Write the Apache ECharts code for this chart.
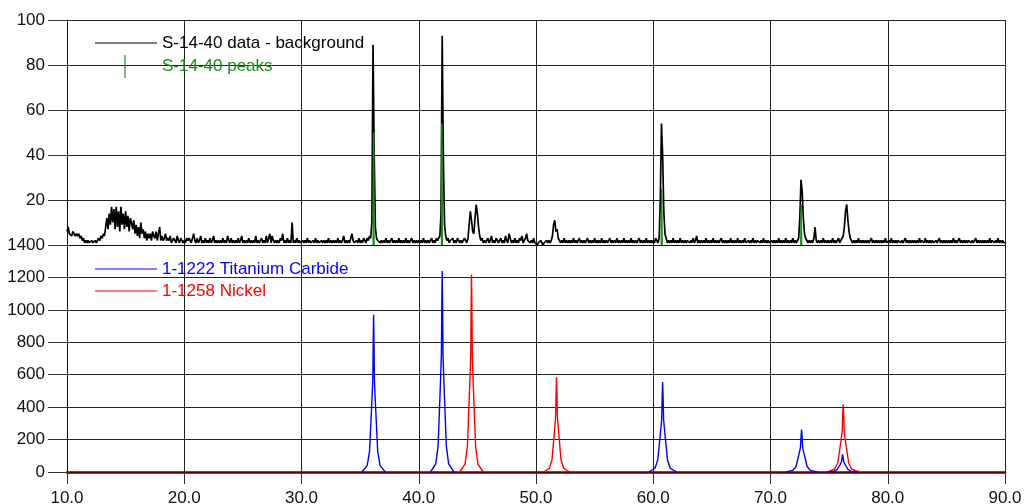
<!DOCTYPE html>
<html>
<head>
<meta charset="utf-8">
<script src="https://cdn.jsdelivr.net/npm/echarts@6/dist/echarts.min.js"></script>
<style>
  html, body { margin: 0; padding: 0; background: #fff; }
  #chart { width: 1030px; height: 504px; }
</style>
</head>
<body>
<div id="chart"></div>
<script>
// Measured pattern S-14-40 (background removed): intensity every 0.1 deg 2-theta, 10.0 .. 90.0
const scanStart = 10.0;
const scanStep = 0.1;
const scanCounts = [
  6,8,5,5,4,6,5,4,5,4,      // 10
  5,3,4,2,3,1,2,1,2,1,      // 11
  1,2,1,1,2,1,1,3,2,4,      // 12
  3,5,4,8,12,7,14,9,17,10,  // 13
  16,7,17,8,15,6,17,9,14,7, // 14
  15,8,13,6,12,10,7,11,5,9, // 15
  4,8,3,10,5,7,3,6,2,5,     // 16
  3,5,2,6,4,3,6,2,5,8,      // 17
  2,4,2,3,5,2,3,2,4,1,      // 18
  2,3,2,1,4,2,1,3,2,1,      // 19
  2,1,3,2,3,2,1,3,5,2,      // 20
  1,3,1,2,4,1,2,1,3,1,      // 21
  2,1,3,1,2,4,1,2,1,2,      // 22
  1,2,1,3,1,2,1,4,2,1,      // 23
  3,1,2,1,2,1,3,1,2,4,      // 24
  1,2,1,2,1,3,1,2,1,2,      // 25
  1,4,1,2,1,2,3,1,2,1,      // 26
  4,1,3,5,1,4,2,1,2,1,      // 27
  2,1,3,2,5,1,2,1,3,1,      // 28
  2,1,10,1,2,1,3,1,2,1,     // 29
  1,2,1,2,1,3,1,2,1,1,      // 30
  2,1,3,1,2,1,1,2,1,2,      // 31
  1,2,1,3,1,2,1,2,1,2,      // 32
  1,3,1,2,1,2,4,1,2,1,      // 33
  2,1,3,5,2,1,1,2,1,3,      // 34
  1,2,1,3,2,1,3,2,4,3,      // 35
  10,89,40,8,3,2,2,1,2,1,   // 36
  2,1,3,1,2,1,2,3,1,2,      // 37
  1,2,1,3,1,2,1,2,1,3,      // 38
  1,2,1,2,3,1,2,1,2,1,      // 39
  2,1,2,1,3,1,2,1,2,1,      // 40
  2,3,1,2,1,3,2,3,4,14,     // 41
  93,38,9,4,2,3,1,2,2,3,    // 42
  1,2,1,3,2,1,2,1,2,3,      // 43
  2,1,3,9,15,11,6,5,12,18,  // 44
  14,8,4,2,3,1,2,1,2,3,     // 45
  1,2,4,1,2,1,3,2,1,2,      // 46
  3,1,2,1,4,2,1,5,3,1,      // 47
  2,1,3,1,2,1,3,2,4,1,      // 48
  2,3,5,2,2,1,2,1,3,1,      // 49
  1,0,1,1,2,1,0,1,1,2,      // 50
  1,2,1,2,4,9,11,6,7,3,     // 51
  2,1,2,1,3,1,2,1,2,1,      // 52
  2,1,3,1,2,1,2,3,1,2,      // 53
  1,2,1,2,3,1,2,1,2,1,      // 54
  3,1,2,1,2,1,3,1,2,1,      // 55
  2,1,2,3,1,2,1,2,1,3,      // 56
  1,2,1,2,1,3,1,2,1,2,      // 57
  1,3,1,2,1,2,1,2,3,1,      // 58
  2,1,2,1,3,1,2,1,2,1,      // 59
  2,1,3,2,1,3,20,54,40,15,  // 60
  5,3,1,2,1,2,1,3,1,2,      // 61
  1,2,1,3,1,2,1,2,1,2,      // 62
  2,1,2,1,3,1,2,4,1,2,      // 63
  1,2,1,2,1,3,1,2,1,2,      // 64
  1,3,1,2,1,2,1,2,3,1,      // 65
  2,1,2,1,2,1,3,1,2,1,      // 66
  2,1,3,1,2,1,2,1,3,1,      // 67
  1,2,1,2,1,3,1,2,1,2,      // 68
  2,1,2,1,3,1,2,1,2,1,      // 69
  1,2,1,2,1,2,1,3,1,2,      // 70
  1,2,1,3,1,2,1,2,1,3,      // 71
  1,2,1,2,3,12,29,24,12,5,  // 72
  3,2,1,2,1,2,1,3,8,2,      // 73
  1,2,1,2,1,3,1,2,1,2,      // 74
  1,2,1,3,1,2,1,2,3,1,      // 75
  2,3,4,8,15,18,11,6,3,2,   // 76
  1,2,1,2,1,3,1,2,1,2,      // 77
  1,2,1,2,1,2,3,1,2,1,      // 78
  2,1,2,1,2,1,2,1,3,1,      // 79
  1,2,1,3,1,2,1,2,1,2,      // 80
  2,1,2,1,2,3,1,2,1,2,      // 81
  1,2,1,2,1,2,1,3,1,2,      // 82
  2,1,3,1,2,1,2,1,2,1,      // 83
  1,2,1,2,3,1,2,1,2,1,      // 84
  2,1,2,1,2,1,3,1,2,1,      // 85
  1,3,1,2,1,2,1,2,1,2,      // 86
  2,1,2,1,2,3,1,2,1,2,      // 87
  1,2,1,2,1,2,1,3,1,2,      // 88
  2,1,2,1,3,1,2,1,2,1,      // 89
  1                         // 90
];

// Peaks found in S-14-40: position (deg 2-theta) and height
const foundPeakPos = [36.15, 41.98, 60.72, 72.62];
const foundPeakHeight = [50, 54, 25, 18];

// Reference patterns drawn as profiles: offsets from the line centre (deg) and a width factor per line
const profileOffsets = [-1.0, -0.55, -0.35, -0.17, -0.07, -0.03, 0, 0.03, 0.07, 0.17, 0.35, 0.55, 1.0];

// 1-1222 Titanium Carbide
const ticPos = [36.15, 42.0, 60.8, 72.65, 76.15];
const ticWidth = [1.0, 1.0, 1.2, 1.35, 1.35];
const ticProfiles = [
  [0, 39, 126, 398, 563, 825, 970, 825, 563, 398, 126, 39, 0],
  [0, 50, 161, 508, 719, 1054, 1240, 1054, 719, 508, 161, 50, 0],
  [0, 22, 72, 228, 322, 472, 555, 472, 322, 228, 72, 22, 0],
  [0, 10, 34, 107, 152, 223, 262, 223, 152, 107, 34, 10, 0],
  [0, 4, 14, 44, 63, 92, 108, 92, 63, 44, 14, 4, 0]
];

// 1-1258 Nickel
const niPos = [44.5, 51.75, 76.2];
const niWidth = [1.0, 1.1, 1.35];
const niProfiles = [
  [0, 49, 158, 499, 706, 1035, 1218, 1035, 706, 499, 158, 49, 0],
  [0, 23, 76, 240, 339, 497, 585, 497, 339, 240, 76, 23, 0],
  [0, 17, 54, 171, 242, 355, 418, 355, 242, 171, 54, 17, 0]
];

// Axis ticks
const xTicks = { min: 10, max: 90, step: 10 };
const yTopTicks = { min: 0, max: 100, step: 20 };
const yBottomTicks = { min: 0, max: 1400, step: 200 };

const FONT = '"Liberation Sans", Arial, sans-serif';
const GRID_COLOR = '#222';

const scanData = scanCounts.map((v, i) => [+(scanStart + i * scanStep).toFixed(2), v]);

function stick(pos, h) {
  return [[pos - 0.035, 0], [pos, h], [pos + 0.035, 0]];
}
function profile(pos, width, values) {
  return values.map((v, i) => [pos + profileOffsets[i] * width, v]);
}

const series = [];
series.push({
  name: 'S-14-40 data - background', type: 'line', xAxisIndex: 0, yAxisIndex: 0,
  data: scanData, showSymbol: false, lineStyle: { color: '#000', width: 1.7 }, z: 3
});
foundPeakPos.forEach((p, i) => series.push({
  name: 'S-14-40 peaks', type: 'line', xAxisIndex: 0, yAxisIndex: 0,
  data: stick(p, foundPeakHeight[i]), showSymbol: false,
  lineStyle: { color: '#1a8c1a', width: 1.5 }, z: 4
}));
ticPos.forEach((p, i) => series.push({
  name: '1-1222 Titanium Carbide', type: 'line', xAxisIndex: 1, yAxisIndex: 1,
  data: profile(p, ticWidth[i], ticProfiles[i]), showSymbol: false,
  lineStyle: { color: '#0000ff', width: 1.4 }, z: 4
}));
niPos.forEach((p, i) => series.push({
  name: '1-1258 Nickel', type: 'line', xAxisIndex: 1, yAxisIndex: 1,
  data: profile(p, niWidth[i], niProfiles[i]), showSymbol: false,
  lineStyle: { color: '#ff0000', width: 1.4 }, z: 3
}));

const splitLine = { show: true, lineStyle: { color: GRID_COLOR, width: 1 } };
const yLabel = { fontSize: 17, color: '#111', fontFamily: FONT, margin: 22, formatter: v => String(v) };

const legendItems = [
  { text: 'S-14-40 data - background', color: '#000', y: 43, kind: 'line' },
  { text: 'S-14-40 peaks', color: '#1a8c1a', y: 66, kind: 'tick' },
  { text: '1-1222 Titanium Carbide', color: '#0000ff', y: 269, kind: 'line' },
  { text: '1-1258 Nickel', color: '#ff0000', y: 291, kind: 'line' }
];
const graphic = [];
legendItems.forEach(it => {
  if (it.kind === 'line') {
    graphic.push({ type: 'line', shape: { x1: 95, y1: it.y, x2: 157, y2: it.y },
      style: { stroke: it.color, lineWidth: 1.2 }, z: 10 });
  } else {
    graphic.push({ type: 'line', shape: { x1: 125, y1: it.y - 11, x2: 125, y2: it.y + 12 },
      style: { stroke: it.color, lineWidth: 1.2 }, z: 10 });
  }
  graphic.push({ type: 'text', x: 162, y: it.y, z: 10,
    style: { text: it.text, fill: it.color, fontSize: 17, fontFamily: FONT, verticalAlign: 'middle' } });
});

const option = {
  animation: false,
  backgroundColor: '#fff',
  grid: [
    { left: 67, right: 25, top: 20, height: 225, outerBoundsMode: 'none', containLabel: false },
    { left: 67, right: 25, top: 245, height: 227, outerBoundsMode: 'none', containLabel: false }
  ],
  xAxis: [
    { gridIndex: 0, type: 'value', min: xTicks.min, max: xTicks.max, interval: xTicks.step,
      axisLabel: { show: false }, axisTick: { show: false },
      axisLine: { show: true, onZero: false, lineStyle: { color: '#111', width: 1 } },
      splitLine },
    { gridIndex: 1, type: 'value', min: xTicks.min, max: xTicks.max, interval: xTicks.step,
      axisLabel: { formatter: v => v.toFixed(1), fontSize: 17, color: '#111', fontFamily: FONT, margin: 18 },
      axisTick: { show: true, length: 12, lineStyle: { color: '#333', width: 1 } },
      axisLine: { show: true, onZero: false, lineStyle: { color: '#5c0000', width: 2.5 } },
      splitLine }
  ],
  yAxis: [
    { gridIndex: 0, type: 'value', min: yTopTicks.min, max: yTopTicks.max, interval: yTopTicks.step,
      axisLabel: Object.assign({}, yLabel, { showMinLabel: false }),
      axisTick: { show: true, length: 19, lineStyle: { color: '#333' } },
      axisLine: { show: true, lineStyle: { color: '#111' } },
      splitLine },
    { gridIndex: 1, type: 'value', min: yBottomTicks.min, max: yBottomTicks.max, interval: yBottomTicks.step,
      axisLabel: yLabel,
      axisTick: { show: true, length: 19, lineStyle: { color: '#333' } },
      axisLine: { show: true, lineStyle: { color: '#111' } },
      splitLine }
  ],
  graphic,
  series
};

const chart = echarts.init(document.getElementById('chart'), null, { renderer: 'canvas' });
chart.setOption(option);
</script>
</body>
</html>
